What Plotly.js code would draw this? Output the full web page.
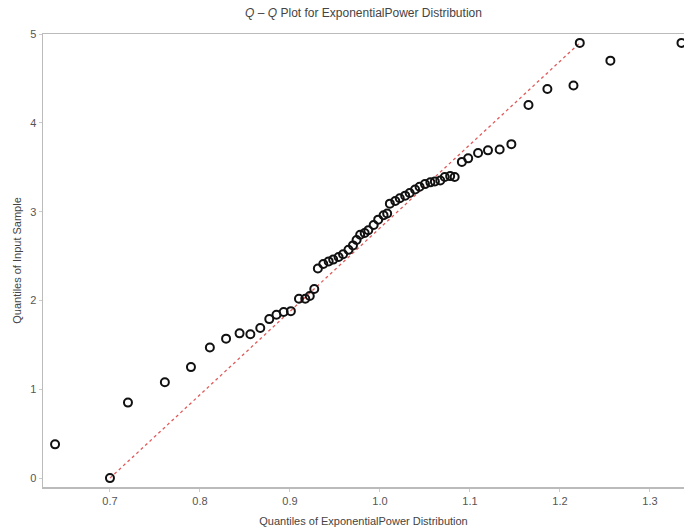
<!DOCTYPE html>
<html>
<head>
<meta charset="utf-8">
<script src="https://cdn.plot.ly/plotly-3.0.1.min.js"></script>
<style>html,body{margin:0;padding:0;background:#fff;}#chart{width:684px;height:531px;}</style>
</head>
<body>
<div id="chart"></div>
<script>
// Theoretical quantiles (ExponentialPower distribution)
var theoreticalQuantiles = [
  0.639, 0.700, 0.720, 0.761, 0.790, 0.811, 0.829, 0.844, 0.856, 0.867,
  0.877, 0.885, 0.893, 0.901, 0.910, 0.917, 0.922, 0.927, 0.931, 0.937,
  0.943, 0.948, 0.954, 0.959, 0.965, 0.970, 0.974, 0.978, 0.983, 0.987,
  0.993, 0.998, 1.004, 1.008, 1.011, 1.017, 1.022, 1.028, 1.033, 1.039,
  1.044, 1.050, 1.056, 1.061, 1.067, 1.072, 1.078, 1.083, 1.091, 1.098,
  1.109, 1.120, 1.133, 1.146, 1.165, 1.186, 1.215, 1.222, 1.256, 1.335
];
// Sample quantiles
var sampleQuantiles = [
  0.38, 0.00, 0.85, 1.08, 1.25, 1.47, 1.57, 1.63, 1.62, 1.69,
  1.79, 1.84, 1.87, 1.88, 2.02, 2.02, 2.05, 2.13, 2.36, 2.41,
  2.44, 2.46, 2.49, 2.52, 2.57, 2.62, 2.68, 2.74, 2.76, 2.79,
  2.85, 2.91, 2.96, 2.98, 3.09, 3.12, 3.15, 3.18, 3.21, 3.25,
  3.28, 3.31, 3.33, 3.34, 3.35, 3.39, 3.40, 3.39, 3.56, 3.60,
  3.66, 3.69, 3.70, 3.76, 4.20, 4.38, 4.42, 4.90, 4.70, 4.90
];
// Reference line end points
var refLineX = [0.700, 1.222];
var refLineY = [0.00, 4.90];

var xTickVals = [0.7, 0.8, 0.9, 1.0, 1.1, 1.2, 1.3];
var xTickText = ['0.7', '0.8', '0.9', '1.0', '1.1', '1.2', '1.3'];
var yTickVals = [0, 1, 2, 3, 4, 5];
var yTickText = ['0', '1', '2', '3', '4', '5'];

var traces = [
  {
    x: refLineX, y: refLineY, type: 'scatter', mode: 'lines',
    line: {color: '#e05a5a', width: 1.3, dash: 'dot'},
    hoverinfo: 'skip', showlegend: false
  },
  {
    x: theoreticalQuantiles, y: sampleQuantiles, type: 'scatter', mode: 'markers',
    marker: {symbol: 'circle-open', size: 8, color: '#111', line: {width: 2, color: '#111'}},
    showlegend: false
  }
];

var axisFont = {family: 'Liberation Sans, Arial, sans-serif', size: 11, color: '#555'};

var layout = {
  width: 684, height: 531,
  margin: {l: 43, r: 0, t: 34, b: 44, pad: 0},
  paper_bgcolor: '#fff', plot_bgcolor: '#fff',
  title: {
    text: '<i>Q</i> – <i>Q</i> Plot for ExponentialPower Distribution',
    font: {family: 'Liberation Sans, Arial, sans-serif', size: 12, color: '#444'},
    x: 0.5, xref: 'paper', y: 0.975, yref: 'container', yanchor: 'middle'
  },
  xaxis: {
    range: [0.6256, 1.3378],
    tickvals: xTickVals, ticktext: xTickText,
    showgrid: false, zeroline: false,
    showline: true, linecolor: '#bbb', linewidth: 1.5, mirror: true,
    ticks: 'outside', ticklen: 3, tickcolor: '#ccc',
    tickfont: axisFont,
    title: {text: 'Quantiles of ExponentialPower Distribution', font: {family: 'Liberation Sans, Arial, sans-serif', size: 11, color: '#444'}, standoff: 11}
  },
  yaxis: {
    range: [-0.1, 5.0],
    tickvals: yTickVals, ticktext: yTickText,
    showgrid: false, zeroline: false,
    showline: true, linecolor: '#bbb', linewidth: 1.5,
    ticks: 'outside', ticklen: 3, tickcolor: '#ccc',
    tickfont: axisFont,
    title: {text: 'Quantiles of Input Sample', font: {family: 'Liberation Sans, Arial, sans-serif', size: 11, color: '#444'}, standoff: 6}
  }
};

Plotly.newPlot('chart', traces, layout, {displayModeBar: false, staticPlot: true});
</script>
</body>
</html>
